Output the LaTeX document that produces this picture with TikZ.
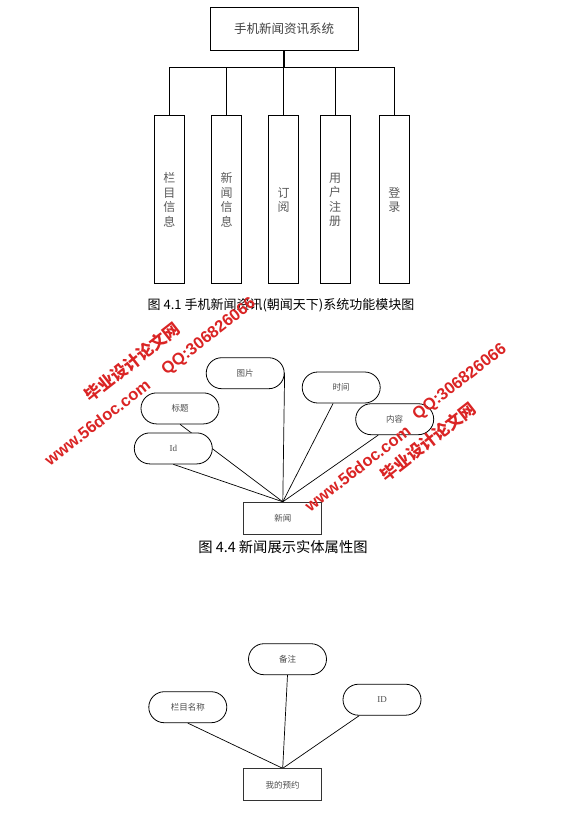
\documentclass[tikz,border=0pt]{standalone}
\usepackage{fontspec}
\setmainfont{Liberation Serif}
\setsansfont{Liberation Sans}
\newfontfamily\cjk{Noto Sans CJK SC}
\usepackage{tikz}
\usetikzlibrary{shapes,backgrounds,positioning}
\definecolor{stampred}{RGB}{218,36,36}

\begin{document}
\begin{tikzpicture}[x=1pt,y=-1pt]
  \tikzstyle{system}=[rectangle,draw=black,line width=0.9pt,minimum width=148pt,minimum height=43pt,font=\cjk\fontsize{12.5}{14}\selectfont,text=black!75]
  \tikzstyle{module}=[rectangle,draw=black,line width=0.9pt,minimum width=30pt,minimum height=168pt,inner sep=0pt,align=center,font=\cjk\fontsize{12}{14.5}\selectfont,text=black!65]
  \tikzstyle{attr}=[rounded rectangle,draw=black,line width=0.8pt,fill=white,minimum width=78pt,minimum height=31pt,inner sep=0pt,font=\cjk\fontsize{8.5}{10}\selectfont,text=black!70]
  \tikzstyle{latin}=[font=\fontsize{9}{10}\selectfont]
  \tikzstyle{entity}=[rectangle,draw=black!80,line width=1pt,fill=white,minimum width=78pt,minimum height=32pt,font=\cjk\fontsize{8.5}{10}\selectfont,text=black!70]
  \tikzstyle{caption}=[font=\cjk\fontsize{13}{15}\selectfont]
  \tikzstyle{link}=[line width=0.7pt,black]
  \tikzstyle{stamp}=[rotate=38,inner sep=0pt,text=stampred,font=\sffamily\bfseries\fontsize{16.5}{18}\selectfont]

  \useasboundingbox (0,0) rectangle (568,827);

  \begin{scope}
    % function modules
    \node [system] (sys) at (284,28.8) {手机新闻资讯系统};
    \coordinate (bus) at (284,67.7);
    \node [module] (lmxx) at (169.3,199.9) {栏\\目\\信\\息};
    \node [module] (xwxx) at (226.7,199.9) {新\\闻\\信\\息};
    \node [module] (dy) at (283.7,199.9) {订\\阅};
    \node [module] (yhzc) at (335.2,199.9) {用\\户\\注\\册};
    \node [module] (dl) at (394.3,199.9) {登\\录};
    \node [caption] (cap1) at (281,305) {图 4.1\ 手机新闻资讯(朝闻天下)系统功能模块图};
  \end{scope}

  \begin{scope}
    \path [link,line width=1.2pt] (sys) edge (bus);
    \foreach \m in {lmxx,xwxx,dy,yhzc,dl}
      \draw [link] (bus) -| (\m.north);
  \end{scope}

  \begin{scope}
    % news entity
    \node [attr] (tupian) at (245.2,373.2) {图片};
    \node [attr] (biaoti) at (180,408.4) {标题};
    \node [attr,latin] (id) at (173.3,448.4) {Id};
    \node [attr] (shijian) at (341.2,387.5) {时间};
    \node [attr] (neirong) at (394.7,419.2) {内容};
    \node [entity] (xinwen) at (282.8,518.3) {新闻};
    \node [caption,font=\cjk\fontsize{14.3}{16}\selectfont] (cap2) at (283,547) {图 4.4 新闻展示实体属性图};

    % reservation entity
    \node [attr] (beizhu) at (287.5,659.2) {备注};
    \node [attr] (lmmc) at (187.8,707.2) {栏目名称};
    \node [attr,latin] (bid) at (382,699.7) {ID};
    \node [entity] (yuyue) at (282.7,784.8) {我的预约};
  \end{scope}

  \begin{pgfonlayer}{background}
    \path [link] (tupian.east) edge (xinwen.north);
    \path [link] (biaoti.south) edge (xinwen.north);
    \path [link] (id.south) edge (xinwen.north);
    \path [link] (shijian.-117) edge (xinwen.north);
    \path [link] (neirong.-136) edge (xinwen.north);
    \path [link] (beizhu.south) edge (yuyue.north);
    \path [link] (lmmc.south) edge (yuyue.north);
    \path [link] (bid.-145) edge (yuyue.north);
  \end{pgfonlayer}

  % watermarks
  \node [stamp] (wmla) at (132,362) {\cjk\bfseries 毕业设计论文网};
  \node [stamp] (wmlb) at (209,337) {QQ:306826066};
  \node [stamp] (wmlc) at (97.3,422.3) {www.56doc.com};
  \node [stamp] (wmra) at (428.3,441.7) {\cjk\bfseries 毕业设计论文网};
  \node [stamp] (wmrb) at (460,382.5) {QQ:306826066};
  \node [stamp] (wmrc) at (357.5,468.3) {www.56doc.com};
\end{tikzpicture}
\end{document}
